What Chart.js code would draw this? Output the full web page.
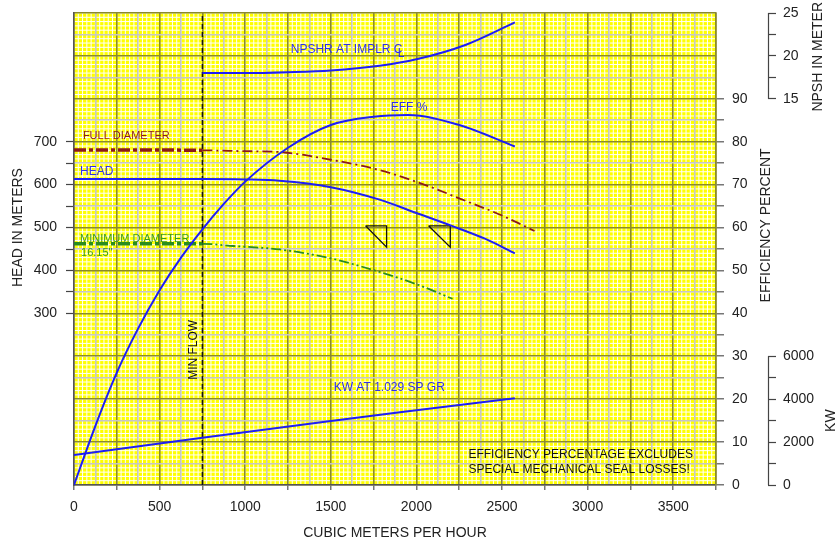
<!DOCTYPE html>
<html>
<head>
<meta charset="utf-8">
<script src="https://cdn.jsdelivr.net/npm/chart.js@4/dist/chart.umd.min.js"></script>
<style>
html,body{margin:0;padding:0;background:#fff;}
canvas{display:block;}
</style>
</head>
<body>
<canvas id="pump" width="838" height="542"></canvas>
<script>
// flows are in m3/h
const effFlow  = [0, 125, 250, 375, 500, 625, 750, 875, 1000, 1250, 1500, 1750, 1950, 2250, 2575];
const effPct   = [0, 13.8, 26.2, 36.5, 45.4, 53.0, 59.6, 65.5, 70.7, 78.6, 83.9, 85.8, 86.2, 83.9, 78.9];

const headFlow = [0, 750, 1000, 1200, 1500, 1785, 2000, 2200, 2400, 2575];
const headM    = [613, 613, 612, 609, 594, 565, 534, 505, 474, 440];

const fullFlow = [0, 750, 1000, 1200, 1500, 1785, 2080, 2250, 2500, 2690];
const fullM    = [681, 680, 678, 676, 658, 634, 595, 568, 528, 492];

const minFlowPts = [0, 750, 930, 1200, 1500, 1756, 2000, 2211];
const minM       = [462, 462, 457, 449, 428, 400, 368, 334];

const npshFlow = [750, 1000, 1250, 1500, 1785, 2000, 2290, 2575];
const npshM    = [18.0, 18.0, 18.1, 18.3, 18.85, 19.6, 21.3, 23.9];

const kwFlow = [0, 750, 1500, 2000, 2575];
const kwVal  = [1400, 2206, 2985, 3480, 4040];

const minFlow = 750;
const tri1Flow = [1703, 1826, 1826, 1703];
const tri2Flow = [2071, 2198, 2198, 2071];
const triHead  = [504, 504, 454, 504];

const FONT = '"Liberation Sans", Arial, sans-serif';
const OLIVE = '#8a8a2c', GREY = '#c6c6c6', BLUE = '#1e1ef5', RED = '#8b1a1a', GREEN = '#2a8c1e';
const TXT_BLUE = '#2f2fe6';

function pts(xs, ys){ return xs.map((x,i)=>({x:x, y:ys[i]})); }

function curve(xs, ys, axis, color, width, extra){
    return Object.assign({
        data: pts(xs, ys), yAxisID: axis, borderColor: color, borderWidth: width,
        pointRadius: 0, fill: false, cubicInterpolationMode: 'monotone'
    }, extra || {});
}

function dashedCurve(xs, ys, color, thickDash, thinDash){
    return curve(xs, ys, 'head', color, 2, {
        segment: {
            borderWidth: c => c.p0.parsed.x < minFlow ? 3.5 : 1.8,
            borderDash: c => c.p0.parsed.x < minFlow ? thickDash : thinDash
        }
    });
}

// fixed axis boxes so the plot frame lands where the original has it
function fixWidth(w){
    return s => { s.width = w; s.paddingTop = 0; s.paddingBottom = 0; };
}

const notes = [
    {text:'FULL DIAMETER', q:52, axis:'head', v:713, color:RED, size:11},
    {text:'HEAD', q:35, axis:'head', v:630, color:TXT_BLUE, size:12},
    {text:'MINIMUM DIAMETER', q:35, axis:'head', v:473, color:'#3c9a1e', size:11},
    {text:'16.15"', q:41, axis:'head', v:441, color:'#3c9a1e', size:11},
    {text:'EFF %', q:1850, axis:'eff', v:87.9, color:TXT_BLUE, size:12},
    {text:'KW AT 1.029 SP GR', q:1517, axis:'kw', v:4520, color:TXT_BLUE, size:12},
    {text:'EFFICIENCY PERCENTAGE EXCLUDES', q:2304, axis:'eff', v:7.0, color:'#111', size:12},
    {text:'SPECIAL MECHANICAL SEAL LOSSES!', q:2304, axis:'eff', v:3.5, color:'#111', size:12}
];

function vText(ctx, text, x, y, size, color){
    ctx.save();
    ctx.translate(x, y);
    ctx.rotate(-Math.PI/2);
    ctx.fillStyle = color;
    ctx.font = size + 'px ' + FONT;
    ctx.textAlign = 'center';
    ctx.textBaseline = 'middle';
    ctx.fillText(text, 0, 0);
    ctx.restore();
}

const paper = {
    id: 'paper',
    afterLayout(chart){
        // kW bracket shares the column of the NPSH bracket
        const n = chart.scales.npsh, k = chart.scales.kw;
        k.left = n.left; k.right = n.right; k.width = n.width;
    },
    beforeDraw(chart){
        const {ctx, chartArea:a, scales} = chart;
        ctx.save();
        ctx.fillStyle = '#ffff00';
        ctx.fillRect(a.left, a.top, a.right - a.left, a.bottom - a.top);
        ctx.strokeStyle = '#ffffff';
        ctx.lineWidth = 1;
        ctx.beginPath();
        for(let q = 0; q <= 3750; q += 25){
            const px = scales.x.getPixelForValue(q);
            ctx.moveTo(px, a.top); ctx.lineTo(px, a.bottom);
        }
        for(let e = 0; e <= 110; e += 1){
            const py = scales.eff.getPixelForValue(e);
            ctx.moveTo(a.left, py); ctx.lineTo(a.right, py);
        }
        ctx.stroke();
        ctx.restore();
    },
    afterDatasetsDraw(chart){
        const {ctx, scales} = chart;
        ctx.save();
        ctx.textAlign = 'left';
        ctx.textBaseline = 'middle';
        notes.forEach(n=>{
            ctx.fillStyle = n.color;
            ctx.font = n.size + 'px ' + FONT;
            ctx.fillText(n.text, scales.x.getPixelForValue(n.q), scales[n.axis].getPixelForValue(n.v));
        });
        // NPSHR label with centre-line mark
        const nx = scales.x.getPixelForValue(1266), ny = scales.npsh.getPixelForValue(20.7);
        ctx.fillStyle = TXT_BLUE;
        ctx.font = '12px ' + FONT;
        const lead = 'NPSHR AT IMPLR ';
        ctx.fillText(lead + 'C', nx, ny);
        ctx.fillText('L', nx + ctx.measureText(lead).width + 4, ny + 4);

        vText(ctx, 'MIN FLOW', scales.x.getPixelForValue(698), scales.eff.getPixelForValue(31.5), 12, '#111');

        // bracket axes on the far right
        const n = scales.npsh, k = scales.kw;
        ctx.strokeStyle = '#444';
        ctx.lineWidth = 1.2;
        ctx.beginPath();
        ctx.moveTo(n.left + 0.5, n.getPixelForValue(15)); ctx.lineTo(n.left + 0.5, n.getPixelForValue(25));
        ctx.moveTo(k.left + 0.5, k.getPixelForValue(0)); ctx.lineTo(k.left + 0.5, k.getPixelForValue(6000));
        ctx.stroke();

        const hd = scales.head;
        vText(ctx, 'HEAD IN METERS', 18, hd.getPixelForValue(500), 14, '#222');
        vText(ctx, 'EFFICIENCY PERCENT', 766, scales.eff.getPixelForValue(60.5), 14, '#222');
        vText(ctx, 'NPSH IN METER', 818, n.getPixelForValue(19.9), 14, '#222');
        vText(ctx, 'KW', 831, k.getPixelForValue(3000), 14, '#222');
        ctx.restore();
    }
};

const tickFont = {family: FONT, size: 14};
const clear = 'rgba(0,0,0,0)';

new Chart(document.getElementById('pump'), {
    type: 'line',
    data: {
        datasets: [
            curve(headFlow, headM, 'head', BLUE, 2),
            curve(effFlow, effPct, 'eff', BLUE, 2),
            curve(npshFlow, npshM, 'npsh', BLUE, 2),
            curve(kwFlow, kwVal, 'kw', BLUE, 2),
            dashedCurve(fullFlow, fullM, RED, [12,3,4,3], [10,4,2,4]),
            dashedCurve(minFlowPts, minM, GREEN, [12,3,4,3], [10,3,2,3,2,3]),
            {data: pts([minFlow, minFlow], [0, 110]), yAxisID:'eff', borderColor:'#111', borderWidth:1.5, borderDash:[5,3], pointRadius:0, tension:0},
            {data: pts(tri1Flow, triHead), yAxisID:'head', borderColor:'#111', borderWidth:1.3, pointRadius:0, tension:0},
            {data: pts(tri2Flow, triHead), yAxisID:'head', borderColor:'#111', borderWidth:1.3, pointRadius:0, tension:0}
        ]
    },
    options: {
        responsive: false,
        animation: false,
        devicePixelRatio: 1,
        layout: {padding: {top: 13, left: 0, right: 0, bottom: 0}},
        plugins: {legend: {display: false}, tooltip: {enabled: false}},
        scales: {
            x: {
                type: 'linear', position: 'bottom', min: 0, max: 3750,
                ticks: {stepSize: 125, autoSkip: false, maxRotation: 0, minRotation: 0, padding: 9, color: '#222', font: tickFont,
                    callback: v => v % 500 === 0 ? v : ''},
                grid: {color: c => (c.tick && c.tick.value % 250 === 0) ? OLIVE : GREY, lineWidth: 1.6,
                    tickLength: 5, tickWidth: 1.2, tickColor: c => (c.tick && c.tick.value % 250 === 0) ? '#555' : clear},
                border: {color: '#555', width: 1.5},
                title: {display: true, text: 'CUBIC METERS PER HOUR', color: '#222', font: tickFont, padding: 0},
                afterFit: s => { s.height = 57; s.paddingLeft = 0; s.paddingRight = 0; }
            },
            head: {
                type: 'linear', position: 'left', min: -100, max: 1000,
                afterBuildTicks: s => { s.ticks = s.ticks.filter(t => t.value >= 300 && t.value <= 700); },
                ticks: {stepSize: 50, autoSkip: false, padding: 9, color: '#222', font: tickFont,
                    callback: v => v % 100 === 0 ? v : ''},
                grid: {drawOnChartArea: false, tickLength: 8, tickWidth: 1.2, tickColor: '#444'},
                border: {color: '#555', width: 1.5},
                afterFit: fixWidth(74)
            },
            eff: {
                type: 'linear', position: 'right', weight: 0, min: 0, max: 110,
                ticks: {stepSize: 5, autoSkip: false, padding: 8, color: '#222', font: tickFont,
                    callback: v => (v % 10 === 0 && v <= 90) ? v : ''},
                grid: {color: c => (c.tick && c.tick.value % 10 === 0) ? OLIVE : GREY, lineWidth: 1.6,
                    tickLength: 8, tickWidth: 1.2, tickColor: c => (c.tick && c.tick.value <= 90) ? '#555' : clear},
                border: {color: OLIVE, width: 1.6},
                afterFit: fixWidth(52)
            },
            npsh: {
                type: 'linear', position: 'right', weight: 1, min: -30, max: 25,
                afterBuildTicks: s => { s.ticks = s.ticks.filter(t => t.value >= 15); },
                ticks: {stepSize: 2.5, autoSkip: false, padding: 7, color: '#222', font: tickFont,
                    callback: v => v % 5 === 0 ? v : ''},
                grid: {drawOnChartArea: false, tickLength: 8, tickWidth: 1.2, tickColor: '#444'},
                border: {display: false},
                afterFit: fixWidth(70)
            },
            kw: {
                type: 'linear', position: 'right', weight: 2, min: 0, max: 22000,
                afterBuildTicks: s => { s.ticks = s.ticks.filter(t => t.value <= 6000); },
                ticks: {stepSize: 1000, autoSkip: false, padding: 7, color: '#222', font: tickFont,
                    callback: v => v % 2000 === 0 ? v : ''},
                grid: {drawOnChartArea: false, tickLength: 8, tickWidth: 1.2, tickColor: '#444'},
                border: {display: false},
                afterFit: fixWidth(0)
            }
        }
    },
    plugins: [paper]
});
</script>
</body>
</html>
